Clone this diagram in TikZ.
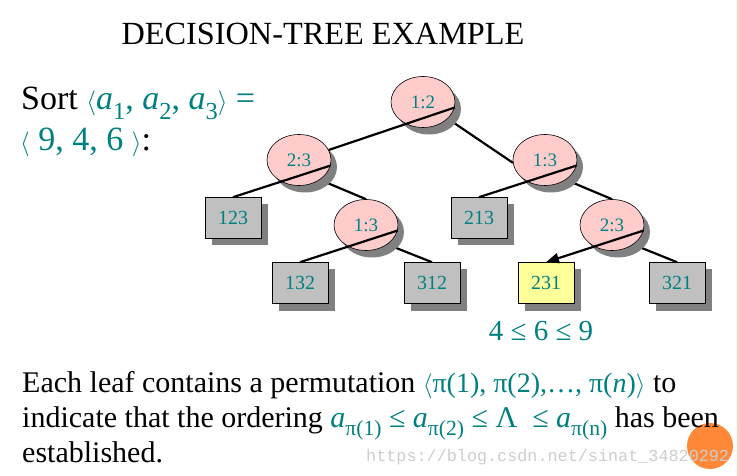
\documentclass[tikz,border=0pt]{standalone}
\usepackage{fontspec}
\setmainfont{Liberation Serif}
\newfontfamily\markfont{Liberation Mono}
\usetikzlibrary{shapes.geometric, arrows.meta, shadows, backgrounds}
\definecolor{slideteal}{RGB}{0,128,128}
\definecolor{cmppink}{RGB}{255,204,204}
\definecolor{leafgray}{RGB}{192,192,192}
\definecolor{leafyellow}{RGB}{255,255,153}
\definecolor{shadowgray}{RGB}{128,128,128}
\definecolor{edgepink}{RGB}{250,208,196}
\definecolor{badgeorange}{RGB}{255,137,56}
\definecolor{markgray}{RGB}{205,205,205}
\newcommand{\tealpart}[1]{\textcolor{slideteal}{#1}}
\newcommand{\aidx}[1]{\textit{a}\raisebox{-0.27em}{\scalebox{0.72}{#1}}}
\tikzset{
  cmpnode/.style={ellipse, draw=black, line width=0.6pt, fill=cmppink,
                  minimum width=64pt, minimum height=51pt, inner sep=0pt,
                  text=slideteal, font=\fontsize{19}{19}\selectfont,
                  drop shadow={shadow xshift=6pt, shadow yshift=-7pt,
                               fill=shadowgray, opacity=1}},
  leafnode/.style={rectangle, draw=black, line width=0.6pt, fill=leafgray,
                   minimum width=56pt, minimum height=41pt, inner sep=0pt,
                   text=slideteal, font=\fontsize{20}{20}\selectfont,
                   drop shadow={shadow xshift=7pt, shadow yshift=-7pt,
                                fill=shadowgray, opacity=1}},
  picknode/.style={leafnode, fill=leafyellow},
  treeedge/.style={line width=2.2pt, black},
  slidetext/.style={inner sep=0pt, anchor=base west, font=\fontsize{30}{30}\selectfont},
}

\begin{document}
\begin{tikzpicture}[x=1pt, y=-1pt]
  \useasboundingbox (0,0) rectangle (740,476);
  \fill[edgepink] (737,0) rectangle (740,476);
  \fill[badgeorange] (710,446) circle (23pt);

  \node[slidetext, anchor=base, font=\fontsize{32.3}{32}\selectfont] (title) at (323,45)
    {DECISION-TREE EXAMPLE};
  \node[slidetext, font=\fontsize{34}{34}\selectfont] (sortA) at (21,110)
    {Sort \tealpart{$\langle$\aidx{1}, \aidx{2}, \aidx{3}$\rangle$ =}};
  \node[slidetext, font=\fontsize{34}{34}\selectfont] (sortB) at (20,151)
    {\tealpart{$\langle$ 9, 4, 6 $\rangle$}:};

  \node[cmpnode] (cmp12) at (423,102) {1:2};
  \node[cmpnode] (cmp23l) at (299,160) {2:3};
  \node[cmpnode] (cmp13r) at (545,160) {1:3};
  \node[cmpnode] (cmp13l) at (366,225) {1:3};
  \node[cmpnode] (cmp23r) at (612,225) {2:3};
  \node[leafnode] (leaf123) at (233,218) {123};
  \node[leafnode] (leaf213) at (479,218) {213};
  \node[leafnode] (leaf132) at (300,283) {132};
  \node[leafnode] (leaf312) at (432,283) {312};
  \node[picknode] (leaf231) at (546,283) {231};
  \node[leafnode] (leaf321) at (677,283) {321};

  \begin{scope}[on background layer]
    \draw[treeedge] (cmp12.center) -- (cmp13r.185);
    \draw[treeedge] ([yshift=-11pt]cmp23l.center) -- (cmp13l.north);
    \draw[treeedge] ([yshift=-11pt]cmp13r.center) -- (cmp23r.north);
    \draw[treeedge] ([yshift=-11pt]cmp13l.center) -- (leaf312.north);
    \draw[treeedge] ([yshift=-11pt]cmp23r.center) -- (leaf321.north);
  \end{scope}
  \draw[treeedge] (cmp12.-10) -- (cmp23l);
  \draw[treeedge] (cmp23l.-10) -- (leaf123.north);
  \draw[treeedge] (cmp13r.-10) -- (leaf213.north);
  \draw[treeedge] (cmp13l.-10) -- (leaf132.north);
  \draw[treeedge, -{Triangle[length=13pt, width=10pt]}] (cmp23r.-10) -- (leaf231.north);

  \node[slidetext, anchor=base, text=slideteal, font=\fontsize{29}{29}\selectfont] (order) at (541,340)
    {4 ≤ 6 ≤ 9};

  \node[slidetext] (explA) at (22,392)
    {Each leaf contains a permutation \tealpart{\fontsize{28}{30}\selectfont$\langle$π(1), π(2),…, π(\textit{n})$\rangle$} to};
  \node[slidetext] (explB) at (22,427)
    {indicate that the ordering \tealpart{\aidx{π(1)} ≤ \aidx{π(2)} ≤ Λ\enspace ≤ \aidx{π(n)}} has been};
  \node[slidetext] (explC) at (22,462) {established.};
  \node[slidetext, text=markgray, font=\markfont\fontsize{16.8}{16.8}\selectfont] (mark) at (366,461)
    {https://blog.csdn.net/sinat\_34820292};
\end{tikzpicture}
\end{document}
